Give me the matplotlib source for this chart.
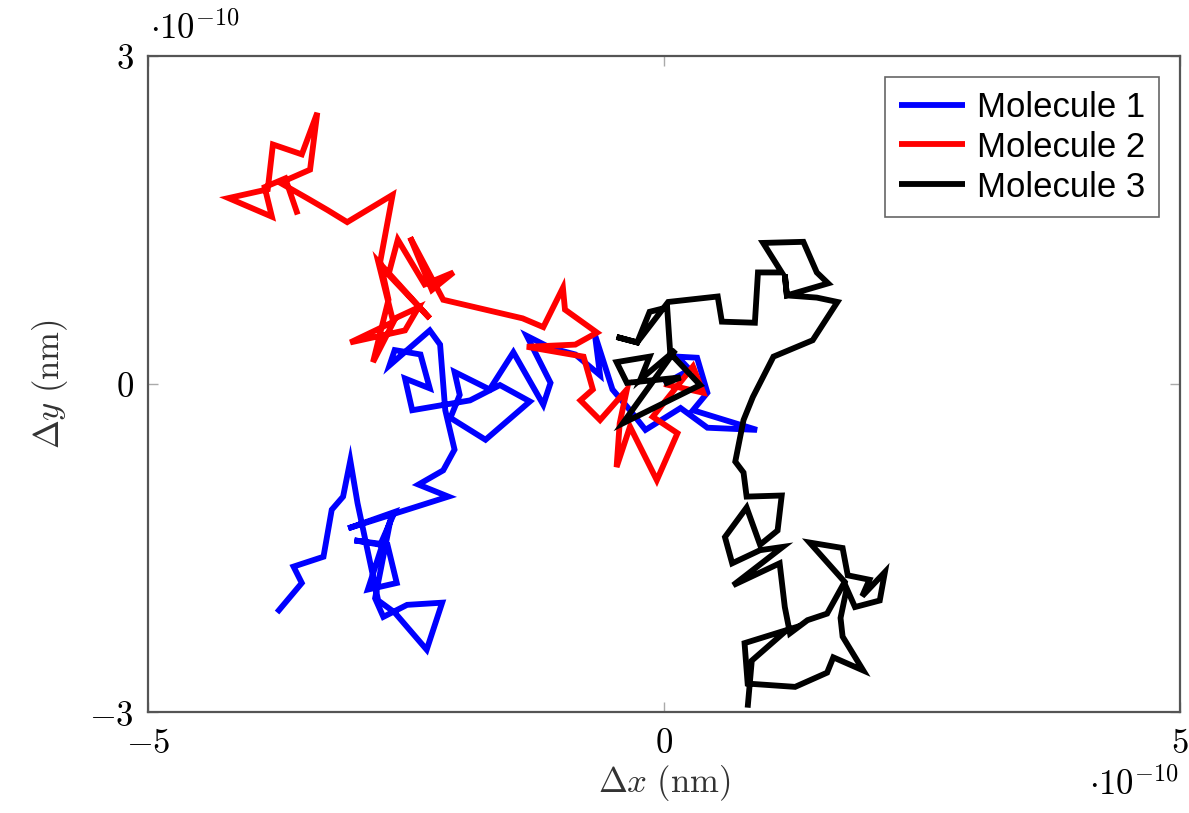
import matplotlib
matplotlib.use("Agg")
import matplotlib.pyplot as plt
import numpy as np

SCALE = 1e-10  # values below are in units of 1e-10

# Molecule 1 (blue)
mol1_x = [0, 0.25, 0.13, 0.32, 0.42, 0.28, 0.90, 0.42, 0.16, -0.18,
          -0.33, -0.50, -0.67, -0.62, -0.86, -1.10, -1.33, -1.10, -1.17, -1.46,
          -1.69, -2.03, -1.98, -2.07, -1.73, -1.30, -1.59, -1.88, -2.44, -2.51,
          -2.27, -2.36, -2.61, -2.66, -2.27, -2.17, -2.12, -2.03, -2.14, -2.38,
          -2.09, -3.06, -2.61, -2.75, -3.00, -2.68, -2.59, -2.87, -2.65, -2.80,
          -2.72, -2.49, -2.15, -2.30, -2.61, -2.77, -2.97, -3.04, -3.11, -3.22,
          -3.30, -3.59, -3.51, -3.75]
mol1_y = [0, 0.13, 0.25, 0.24, -0.08, -0.24, -0.42, -0.40, -0.22, -0.42,
          -0.24, -0.05, 0.45, 0.08, 0.27, 0.33, 0.44, 0.01, -0.19, 0.29,
          -0.05, 0.11, -0.10, -0.31, -0.51, -0.16, -0.01, -0.15, -0.24, 0.05,
          -0.04, 0.27, 0.31, 0.17, 0.49, 0.36, -0.24, -0.60, -0.79, -0.92,
          -1.03, -1.32, -1.17, -1.47, -1.43, -1.47, -1.82, -1.88, -1.24, -1.96,
          -2.13, -2.02, -2.00, -2.43, -2.09, -1.98, -1.09, -0.70, -1.03, -1.15,
          -1.58, -1.67, -1.82, -2.09]

# Molecule 2 (red)
mol2_x = [0, 0.38, 0.28, -0.11, 0.13, -0.07, -0.33, -0.46, -0.43, -0.36,
          -0.62, -0.81, -0.69, -0.78, -1.33, -0.86, -0.65, -0.96, -0.98, -1.17,
          -1.37, -2.14, -2.46, -2.25, -2.04, -2.32, -2.58, -2.67, -2.27, -2.77,
          -2.63, -2.38, -2.51, -3.04, -2.62, -2.82, -2.67, -2.75, -2.63, -3.07,
          -3.26, -3.46, -3.72, -3.43, -3.36, -3.51, -3.79, -3.84, -4.22, -3.80,
          -3.87, -3.67, -3.55]
mol2_y = [0, -0.08, 0.16, -0.30, -0.45, -0.88, -0.39, -0.76, -0.36, -0.05,
          -0.33, -0.15, -0.05, 0.25, 0.34, 0.36, 0.47, 0.68, 0.88, 0.52,
          0.60, 0.77, 1.34, 0.86, 1.02, 0.91, 1.32, 1.00, 0.60, 1.12,
          0.59, 0.70, 0.49, 0.38, 0.57, 0.20, 0.77, 1.12, 1.73, 1.48,
          1.59, 1.70, 1.84, 1.96, 2.48, 2.10, 2.19, 1.78, 1.70, 1.53,
          1.80, 1.88, 1.55]

# Molecule 3 (black)
mol3_x = [0, 0.16, -0.36, -0.46, -0.14, -0.23, 0.11, -0.40, 0.35, 0.06,
          0.03, -0.14, -0.26, -0.46, -0.26, 0.04, 0.52, 0.56, 0.88, 0.91,
          1.14, 0.96, 1.35, 1.48, 1.59, 1.19, 1.17, 1.19, 1.48, 1.68,
          1.44, 1.06, 0.86, 0.77, 0.69, 0.77, 0.80, 1.14, 1.10, 0.93,
          0.80, 0.59, 0.66, 0.93, 1.15, 0.67, 1.12, 1.17, 1.22, 1.39,
          1.58, 1.75, 1.41, 1.73, 1.78, 1.99, 1.92, 2.14, 2.09, 1.85,
          1.77, 1.71, 1.73, 1.93, 1.64, 1.58, 1.27, 0.81, 0.78, 1.19,
          0.85, 0.81]
mol3_y = [0, 0.06, 0.01, 0.20, 0.25, 0.04, 0.31, -0.36, -0.01, 0.28,
          0.70, 0.66, 0.38, 0.43, 0.38, 0.75, 0.80, 0.57, 0.56, 1.02,
          1.02, 1.29, 1.30, 1.02, 0.92, 0.81, 1.00, 0.81, 0.79, 0.75,
          0.40, 0.25, -0.12, -0.33, -0.71, -0.81, -1.03, -1.02, -1.34, -1.47,
          -1.13, -1.40, -1.64, -1.52, -1.49, -1.84, -1.64, -2.04, -2.28, -2.16,
          -2.10, -1.81, -1.45, -1.50, -1.75, -1.79, -1.94, -1.72, -1.98, -2.04,
          -1.87, -2.14, -2.31, -2.62, -2.50, -2.64, -2.77, -2.74, -2.37, -2.25,
          -2.53, -2.96]

labels = ["Molecule 1", "Molecule 2", "Molecule 3"]
colors = ["#0000ff", "#ff0000", "#000000"]
x_ticks = [-5, 0, 5]
y_ticks = [-3, 0, 3]

plt.rcParams["mathtext.fontset"] = "cm"

fig = plt.figure(figsize=(11.89, 8.13), dpi=100)
ax = fig.add_axes([0.1245, 0.1242, 0.868, 0.807])

paths = [(mol1_x, mol1_y), (mol2_x, mol2_y), (mol3_x, mol3_y)]
for (xs, ys), lab, col in zip(paths, labels, colors):
    ax.plot(np.array(xs) * SCALE, np.array(ys) * SCALE, color=col, lw=4.2,
            solid_joinstyle="miter", solid_capstyle="butt", label=lab)

ax.set_xlim(x_ticks[0] * SCALE, x_ticks[-1] * SCALE)
ax.set_ylim(y_ticks[0] * SCALE, y_ticks[-1] * SCALE)
ax.set_xticks([t * SCALE for t in x_ticks])
ax.set_xticklabels(["$%d$" % t if t >= 0 else "$-%d$" % -t for t in x_ticks])
ax.set_yticks([t * SCALE for t in y_ticks])
ax.set_yticklabels(["$%d$" % t if t >= 0 else "$-%d$" % -t for t in y_ticks])
ax.tick_params(direction="in", length=7, width=1, color="#aaaaaa",
               labelsize=25, pad=10, top=True, right=True)

for s in ax.spines.values():
    s.set_color("#555555")
    s.set_linewidth(1.6)

ax.set_xlabel(r"$\Delta x\ (\mathrm{nm})$", fontsize=25, color="#333333", labelpad=2)
ax.set_ylabel(r"$\Delta y\ (\mathrm{nm})$", fontsize=25, color="#333333", labelpad=14)

fig.text(0.126, 0.952, r"$\cdot 10^{-10}$", fontsize=25, ha="left", va="baseline")
fig.text(0.992, 0.022, r"$\cdot 10^{-10}$", fontsize=25, ha="right", va="baseline")

leg = ax.legend(loc="upper right", frameon=True, fancybox=False,
                framealpha=1, edgecolor="#666666", handlelength=1.9,
                handletextpad=0.35, labelspacing=0.2, borderpad=0.4,
                borderaxespad=0.6,
                prop={"family": "Liberation Sans", "size": 25})
leg.get_frame().set_linewidth(1.2)

fig.savefig("out.png", dpi=100)
